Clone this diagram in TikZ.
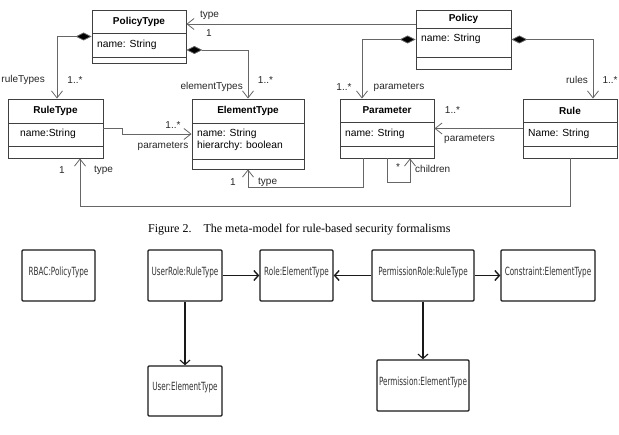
\documentclass[tikz,border=0pt]{standalone}
\usepackage{fontspec}
\usetikzlibrary{arrows.meta}
\newfontfamily\arialf{Liberation Sans}
\newfontfamily\capfont{Liberation Serif}
\newfontfamily\condfont{DejaVu Sans}[FakeStretch=0.64]
\definecolor{lgray}{gray}{0.40}
\definecolor{bgray}{gray}{0.25}
\tikzset{
  cls/.style={draw=bgray, line width=0.9pt, inner sep=0pt},
  sepline/.style={draw=bgray, line width=0.9pt},
  ttl/.style={font=\arialf\fontsize{10}{12}\selectfont\bfseries, inner sep=0pt},
  attr/.style={font=\arialf\fontsize{10.3}{12.4}\selectfont, inner sep=0pt, anchor=west},
  lbl/.style={font=\arialf\fontsize{10}{12}\selectfont, inner sep=0pt, text=black!85},
  assoc/.style={draw=lgray, line width=0.8pt, -{Straight Barb[length=7pt,width=11pt]}},
  comp/.style={draw=lgray, line width=0.8pt, {Diamond[length=16pt,width=8pt,fill=black]}-{Straight Barb[length=7pt,width=11pt]}},
  obj/.style={draw=black!90, line width=1.4pt, rounded corners=1pt, inner sep=0pt,
    font=\condfont\fontsize{11.3}{13}\selectfont, text=black!80, text height=8pt, text depth=8pt},
  oarr/.style={draw=black!90, line width=1.4pt, -{Straight Barb[length=4.5pt,width=10pt]}},
}
\begin{document}
\begin{tikzpicture}[x=1pt,y=-1pt]
\useasboundingbox (0,0) rectangle (619,435);
% ---- classes ----
% PolicyType 92-186, 10-63
\node[cls, minimum width=94pt, minimum height=53pt] (PT) at (139,36.5) {};
\draw[sepline] (92,33) -- (186,33); \draw[sepline] (92,57) -- (186,57);
\node[ttl] (PTt) at (139,21.5) {PolicyType};
\node[attr] (PTa) at (97,45) {name: String};
% Policy 416-511, 10-69
\node[cls, minimum width=95pt, minimum height=59pt] (PO) at (463.5,39.5) {};
\draw[sepline] (416,28) -- (511,28); \draw[sepline] (416,57) -- (511,57);
\node[ttl] (POt) at (463.5,19) {Policy};
\node[attr] (POa) at (421,39) {name: String};
% RuleType 8-103, 99-158
\node[cls, minimum width=95pt, minimum height=59pt] (RT) at (55.5,128.5) {};
\draw[sepline] (8,123) -- (103,123); \draw[sepline] (8,146) -- (103,146);
\node[ttl] (RTt) at (55.5,110.5) {RuleType};
\node[attr] (RTa) at (20,134) {name:String};
% ElementType 192-304, 99-169
\node[cls, minimum width=112pt, minimum height=70pt] (ET) at (248,134) {};
\draw[sepline] (192,123) -- (304,123); \draw[sepline] (192,159) -- (304,159);
\node[ttl] (ETt) at (248,110.5) {ElementType};
\node[attr] (ETa) at (197,134) {name: String};
\node[attr] (ETb) at (197,146) {hierarchy: boolean};
% Parameter 340-434, 99-158
\node[cls, minimum width=94pt, minimum height=59pt] (PA) at (387,128.5) {};
\draw[sepline] (340,122) -- (434,122); \draw[sepline] (340,146) -- (434,146);
\node[ttl] (PAt) at (387,110.5) {Parameter};
\node[attr] (PAa) at (345,134) {name: String};
% Rule 523-617, 99-158
\node[cls, minimum width=94pt, minimum height=59pt] (RU) at (570,128.5) {};
\draw[sepline] (523,122) -- (617,122); \draw[sepline] (523,146) -- (617,146);
\node[ttl] (RUt) at (570,110.5) {Rule};
\node[attr] (RUa) at (528,134) {Name: String};
% ---- connectors ----
\draw[assoc] ([yshift=15.5pt]PO.west) -- ([yshift=15.5pt]PO.west -| PT.east);
\draw[comp] (PT.west) -| ([xshift=1.5pt]RT.north);
\draw[comp] ([yshift=-13.5pt]PT.east) -| (ET.north);
\draw[assoc] (RT.east) -- ++(19,0) |- (ET.west);
\draw[comp] (PO.west) -| ([xshift=-25pt]PA.north);
\draw[comp] (PO.east) -| ([xshift=23pt]RU.north);
\draw[assoc] (RU.west) -- (PA.east);
\draw[assoc] (PA.south) -- ++(0,24) -| ([xshift=23pt]PA.south);
\draw[assoc] ([xshift=-24pt]PA.south) -- ++(0,29) -| (ET.south);
\draw[assoc] (RU.south) -- ++(0,48) -| ([xshift=24.5pt]RT.south);
% ---- labels ----
\node[lbl] (l1) at (209.5,15) {type};
\node[lbl] (l2) at (209,33) {1};
\node[lbl, anchor=east] (l3) at (45,80) {ruleTypes};
\node[lbl] (l4) at (75,80) {1..*};
\node[lbl, anchor=east] (l5) at (243,87) {elementTypes};
\node[lbl] (l6) at (265.5,80) {1..*};
\node[lbl] (l7) at (173,125) {1..*};
\node[lbl] (l8) at (163,146) {parameters};
\node[lbl] (l9) at (344,87) {1..*};
\node[lbl] (l10) at (399,87) {parameters};
\node[lbl] (l11) at (577,80) {rules};
\node[lbl] (l12) at (610,80) {1..*};
\node[lbl] (l13) at (452.5,110) {1..*};
\node[lbl] (l14) at (469.5,139) {parameters};
\node[lbl] (l15) at (398,167) {*};
\node[lbl, anchor=west] (l16) at (415,169) {children};
\node[lbl] (l17) at (233,182) {1};
\node[lbl, anchor=west] (l18) at (258,182) {type};
\node[lbl] (l19) at (62,170) {1};
\node[lbl] (l20) at (103.5,170) {type};
% ---- caption ----
\node[anchor=west, inner sep=0pt, font=\capfont\fontsize{12}{14}\selectfont] (cap) at (148,230)
  {Figure 2.\hspace{12pt}The meta-model for rule-based security formalisms};
% ---- instance diagram ----
\node[obj, minimum width=73pt, minimum height=51pt] (RB) at (58.5,275.5) {RBAC:PolicyType};
\node[obj, minimum width=74pt, minimum height=51pt] (UR) at (185,275.5) {UserRole:RuleType};
\node[obj, minimum width=73pt, minimum height=51pt] (RO) at (296.5,275.5) {Role:ElementType};
\node[obj, minimum width=102pt, minimum height=51pt] (PR) at (423,275.5) {PermissionRole:RuleType};
\node[obj, minimum width=94pt, minimum height=51pt] (CO) at (548,275.5) {Constraint:ElementType};
\node[obj, minimum width=74pt, minimum height=50pt] (US) at (185,391) {User:ElementType};
\node[obj, minimum width=92pt, minimum height=51pt] (PE) at (423,385.5) {Permission:ElementType};
\draw[oarr] (UR.east) -- (RO.west);
\draw[oarr] (PR.west) -- (RO.east);
\draw[oarr] (PR.east) -- (CO.west);
\draw[oarr, line width=1.1pt] (UR.south) -- (US.north);
\draw[oarr, line width=1.1pt] (PR.south) -- (PE.north);
\end{tikzpicture}
\end{document}
